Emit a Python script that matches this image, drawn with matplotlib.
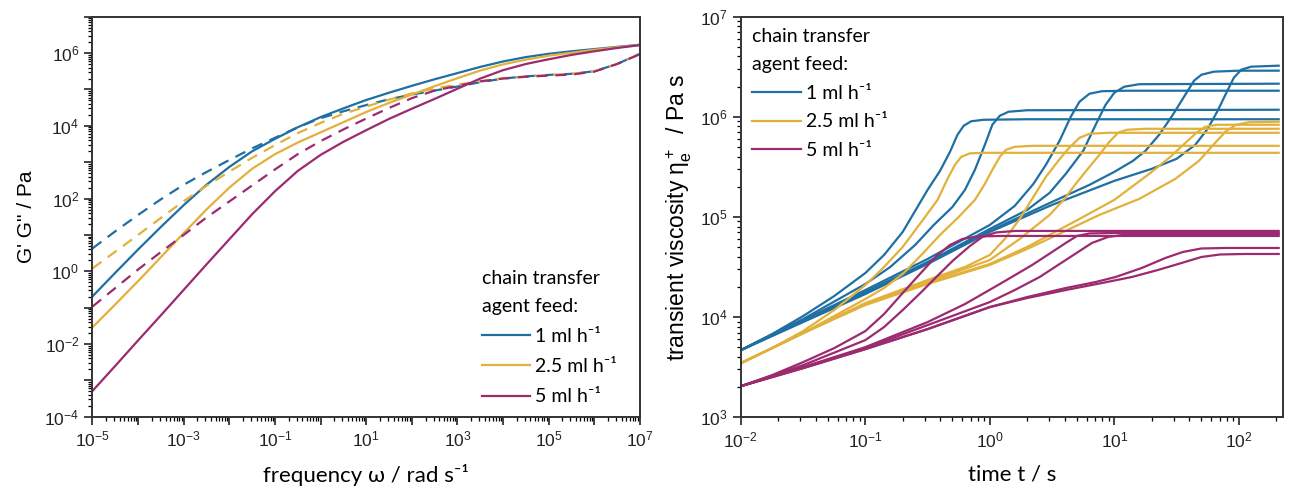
import numpy as np
import matplotlib.pyplot as plt
from matplotlib.ticker import LogLocator, FuncFormatter, NullFormatter
from matplotlib.font_manager import FontProperties

plt.rcParams['font.family'] = ['Liberation Sans', 'DejaVu Sans']
plt.rcParams['mathtext.fontset'] = 'custom'
plt.rcParams['mathtext.rm'] = 'Liberation Sans'
plt.rcParams['mathtext.it'] = 'Liberation Sans:italic'
plt.rcParams['mathtext.bf'] = 'Liberation Sans:bold'

# colours for the three chain transfer agent feeds
c_blue = '#1f6fa3'
c_yellow = '#e2b13c'
c_purple = '#9b2a6f'
feed_labels = ['1 ml h\u207b\u00b9', '2.5 ml h\u207b\u00b9', '5 ml h\u207b\u00b9']

# ---- left: frequency sweep (log10 values) ----
log_freq = [-5, -4.5, -4, -3.5, -3, -2.5, -2, -1.5, -1, -0.5, 0, 0.5, 1, 1.5, 2,
            2.5, 3, 3.5, 4, 4.5, 5, 5.5, 6, 6.5, 7]
Gp_1 = [-0.69, -0.04, 0.60, 1.22, 1.82, 2.38, 2.87, 3.30, 3.64, 3.96, 4.24, 4.48, 4.71,
        4.91, 5.10, 5.28, 5.45, 5.62, 5.77, 5.89, 5.98, 6.05, 6.11, 6.17, 6.23]
Gpp_1 = [0.63, 1.10, 1.55, 1.98, 2.38, 2.73, 3.06, 3.38, 3.67, 3.96, 4.21, 4.40, 4.57,
         4.73, 4.86, 4.97, 5.08, 5.20, 5.30, 5.36, 5.40, 5.43, 5.50, 5.70, 5.98]
Gp_25 = [-1.54, -0.91, -0.27, 0.39, 1.05, 1.70, 2.30, 2.82, 3.22, 3.54, 3.82, 4.10, 4.38,
         4.63, 4.86, 5.09, 5.31, 5.52, 5.69, 5.82, 5.93, 6.01, 6.09, 6.16, 6.22]
Gpp_25 = [0.08, 0.54, 1.00, 1.47, 1.93, 2.35, 2.74, 3.12, 3.47, 3.80, 4.08, 4.33, 4.53,
          4.72, 4.89, 5.03, 5.13, 5.23, 5.31, 5.36, 5.40, 5.43, 5.50, 5.70, 5.98]
Gp_5 = [-3.29, -2.60, -1.90, -1.21, -0.51, 0.19, 0.88, 1.57, 2.20, 2.76, 3.20, 3.56, 3.88,
        4.19, 4.47, 4.74, 5.02, 5.30, 5.53, 5.70, 5.83, 5.95, 6.05, 6.14, 6.22]
Gpp_5 = [-0.97, -0.46, 0.05, 0.53, 1.00, 1.48, 1.92, 2.36, 2.80, 3.22, 3.58, 3.90, 4.20,
         4.49, 4.76, 4.97, 5.10, 5.22, 5.30, 5.35, 5.38, 5.41, 5.49, 5.70, 5.97]

# ---- right: transient elongational viscosity (log10 t, log10 eta) ----
blue_logt = [
    [-2, -1.75, -1.5, -1.25, -1, -0.85, -0.7, -0.6, -0.5, -0.4, -0.32, -0.26, -0.21, -0.15, -0.05, 0.3, 2.32],
    [-2, -1.5, -1, -0.8, -0.6, -0.45, -0.3, -0.2, -0.12, -0.04, 0.02, 0.08, 0.15, 0.3, 2.32],
    [-2, -1.5, -1, -0.5, 0, 0.2, 0.35, 0.45, 0.56, 0.65, 0.72, 0.8, 0.9, 1.1, 2.32],
    [-2, -1.5, -1, -0.5, 0, 0.3, 0.48, 0.61, 0.75, 0.85, 0.93, 1.0, 1.08, 1.2, 2.32],
    [-2, -1.5, -1, -0.5, 0, 0.5, 0.8, 1.0, 1.15, 1.25, 1.36, 1.47, 1.57, 1.64, 1.7, 1.8, 2.0, 2.32],
    [-2, -1.5, -1, -0.5, 0, 0.5, 1.0, 1.3, 1.5, 1.65, 1.75, 1.83, 1.9, 1.96, 2.02, 2.1, 2.32],
]
blue_logeta = [
    [3.67, 3.83, 4.01, 4.21, 4.44, 4.62, 4.85, 5.06, 5.27, 5.46, 5.65, 5.82, 5.91, 5.955, 5.97, 5.975, 5.975],
    [3.67, 3.98, 4.33, 4.50, 4.72, 4.92, 5.10, 5.27, 5.47, 5.72, 5.92, 6.01, 6.05, 6.065, 6.07],
    [3.67, 3.97, 4.27, 4.58, 4.92, 5.11, 5.33, 5.52, 5.76, 6.00, 6.15, 6.23, 6.255, 6.26, 6.26],
    [3.67, 3.96, 4.25, 4.55, 4.88, 5.07, 5.24, 5.43, 5.66, 5.92, 6.12, 6.24, 6.30, 6.325, 6.33],
    [3.67, 3.96, 4.24, 4.54, 4.86, 5.15, 5.32, 5.45, 5.56, 5.66, 5.82, 6.02, 6.22, 6.36, 6.42, 6.45, 6.46, 6.46],
    [3.67, 3.95, 4.23, 4.53, 4.85, 5.12, 5.36, 5.48, 5.58, 5.72, 5.88, 6.06, 6.24, 6.39, 6.47, 6.50, 6.51],
]
yellow_logt = [
    [-2, -1.75, -1.5, -1.25, -1, -0.85, -0.7, -0.55, -0.42, -0.34, -0.28, -0.23, -0.16, -0.05, 2.32],
    [-2, -1.5, -1, -0.85, -0.7, -0.55, -0.4, -0.25, -0.12, -0.04, 0.02, 0.08, 0.13, 0.2, 0.35, 2.32],
    [-2, -1.5, -1, -0.5, -0.2, 0, 0.12, 0.24, 0.35, 0.45, 0.55, 0.63, 0.72, 0.8, 0.95, 2.32],
    [-2, -1.5, -1, -0.5, 0, 0.24, 0.48, 0.6, 0.69, 0.8, 0.88, 0.96, 1.03, 1.1, 1.25, 2.32],
    [-2, -1.5, -1, -0.5, 0, 0.3, 0.72, 1.0, 1.28, 1.45, 1.58, 1.66, 1.73, 1.82, 2.32],
    [-2, -1.5, -1, -0.5, 0, 0.3, 0.88, 1.2, 1.49, 1.68, 1.81, 1.9, 1.98, 2.08, 2.32],
]
yellow_logeta = [
    [3.54, 3.69, 3.86, 4.07, 4.32, 4.50, 4.70, 4.95, 5.17, 5.38, 5.52, 5.60, 5.635, 5.64, 5.64],
    [3.54, 3.84, 4.18, 4.29, 4.43, 4.62, 4.82, 5.00, 5.17, 5.33, 5.47, 5.60, 5.67, 5.70, 5.71, 5.71],
    [3.54, 3.84, 4.14, 4.37, 4.50, 4.62, 4.78, 4.98, 5.20, 5.40, 5.56, 5.68, 5.79, 5.83, 5.84, 5.84],
    [3.54, 3.84, 4.13, 4.35, 4.57, 4.78, 5.02, 5.18, 5.33, 5.50, 5.62, 5.75, 5.84, 5.87, 5.88, 5.88],
    [3.54, 3.84, 4.13, 4.34, 4.53, 4.70, 4.98, 5.17, 5.43, 5.60, 5.75, 5.84, 5.90, 5.92, 5.92],
    [3.54, 3.84, 4.12, 4.33, 4.52, 4.68, 5.02, 5.18, 5.38, 5.56, 5.74, 5.86, 5.92, 5.945, 5.95],
]
purple_logt = [
    [-2, -1.75, -1.5, -1.25, -1, -0.85, -0.7, -0.54, -0.42, -0.32, -0.22, -0.1, 0.1, 2.32],
    [-2, -1.5, -1, -0.85, -0.7, -0.55, -0.43, -0.3, -0.16, -0.06, 0.05, 0.2, 2.32],
    [-2, -1.5, -1, -0.5, -0.2, 0.08, 0.34, 0.5, 0.61, 0.7, 0.8, 1.0, 2.32],
    [-2, -1.5, -1, -0.5, 0, 0.2, 0.4, 0.61, 0.82, 0.95, 1.1, 2.32],
    [-2, -1.5, -1, -0.5, 0, 0.3, 0.61, 0.85, 1.01, 1.22, 1.41, 1.55, 1.7, 1.9, 2.32],
    [-2, -1.5, -1, -0.5, 0, 0.3, 0.61, 0.9, 1.14, 1.35, 1.54, 1.7, 1.85, 2.05, 2.32],
]
purple_logeta = [
    [3.31, 3.42, 3.55, 3.69, 3.86, 4.03, 4.24, 4.46, 4.62, 4.72, 4.78, 4.805, 4.81, 4.81],
    [3.31, 3.52, 3.77, 3.90, 4.07, 4.25, 4.40, 4.56, 4.71, 4.80, 4.845, 4.86, 4.86],
    [3.31, 3.50, 3.70, 3.95, 4.13, 4.33, 4.52, 4.65, 4.74, 4.81, 4.835, 4.84, 4.84],
    [3.31, 3.50, 3.69, 3.92, 4.15, 4.27, 4.40, 4.57, 4.74, 4.80, 4.825, 4.83],
    [3.31, 3.49, 3.68, 3.88, 4.10, 4.20, 4.29, 4.35, 4.40, 4.49, 4.59, 4.65, 4.685, 4.69, 4.69],
    [3.31, 3.49, 3.68, 3.88, 4.10, 4.19, 4.27, 4.34, 4.40, 4.47, 4.54, 4.60, 4.625, 4.63, 4.63],
]

fig = plt.figure(figsize=(12.9, 4.88), dpi=100)
ax1 = fig.add_axes([0.0717, 0.146, 0.4243, 0.8197])
ax2 = fig.add_axes([0.5743, 0.145, 0.4203, 0.821])

leg_font = FontProperties(family=['Lato', 'DejaVu Sans'], size=14)
lab_font = FontProperties(family=['Lato', 'DejaVu Sans'], size=16)

f = 10 ** np.array(log_freq)
for gp, gpp, col, lab in [(Gp_1, Gpp_1, c_blue, feed_labels[0]),
                          (Gp_25, Gpp_25, c_yellow, feed_labels[1]),
                          (Gp_5, Gpp_5, c_purple, feed_labels[2])]:
    ax1.plot(f, 10 ** np.array(gp), color=col, lw=1.6, label=lab)
    ax1.plot(f, 10 ** np.array(gpp), color=col, lw=1.6, ls=(0, (5, 3.5)))

for ts, es, col, lab in [(blue_logt, blue_logeta, c_blue, feed_labels[0]),
                         (yellow_logt, yellow_logeta, c_yellow, feed_labels[1]),
                         (purple_logt, purple_logeta, c_purple, feed_labels[2])]:
    for i, (t, e) in enumerate(zip(ts, es)):
        ax2.plot(10 ** np.array(t), 10 ** np.array(e), color=col, lw=1.6,
                 label=lab if i == 0 else None)


def exp_fmt(keep):
    def fmt(v, pos):
        k = int(round(np.log10(v)))
        return r'$10^{%d}$' % k if keep(k) else ''
    return fmt


ax1.set_xscale('log')
ax1.set_yscale('log')
ax1.set_xlim(1e-5, 1e7)
ax1.set_ylim(1e-4, 1e7)
ax1.xaxis.set_major_locator(LogLocator(base=10, numticks=30))
ax1.yaxis.set_major_locator(LogLocator(base=10, numticks=30))
ax1.xaxis.set_major_formatter(FuncFormatter(exp_fmt(lambda k: k % 2 != 0)))
ax1.yaxis.set_major_formatter(FuncFormatter(exp_fmt(lambda k: k % 2 == 0)))

ax2.set_xscale('log')
ax2.set_yscale('log')
ax2.set_xlim(1e-2, 10 ** 2.355)
ax2.set_ylim(1e3, 1e7)
ax2.xaxis.set_major_locator(LogLocator(base=10, numticks=30))
ax2.yaxis.set_major_locator(LogLocator(base=10, numticks=30))
ax2.xaxis.set_major_formatter(FuncFormatter(exp_fmt(lambda k: True)))
ax2.yaxis.set_major_formatter(FuncFormatter(exp_fmt(lambda k: True)))

for ax in (ax1, ax2):
    for a in (ax.xaxis, ax.yaxis):
        a.set_minor_locator(LogLocator(base=10, subs=np.arange(2, 10), numticks=100))
        a.set_minor_formatter(NullFormatter())
    ax.tick_params(which='major', direction='out', length=6, width=1.2,
                   labelsize=12.5, colors='#222222', top=False, right=False)
    ax.tick_params(which='minor', direction='out', length=3, width=0.9,
                   top=False, right=False)
    for s in ax.spines.values():
        s.set_linewidth(1.4)
        s.set_color('#333333')

ax1.set_ylabel("G' G'' / Pa", fontsize=15, labelpad=6)
ax1.set_xlabel('frequency \u03c9 / rad s\u207b\u00b9', fontproperties=lab_font, labelpad=10)
ax2.set_ylabel(r'transient viscosity $\mathrm{\eta_e^+}$  / Pa s', fontsize=16.5, labelpad=4)
ax2.set_xlabel('time t / s', fontproperties=lab_font, labelpad=10)

for ax, anchor, spacing in [(ax1, (0.711, 0.368), 0.68), (ax2, (0.021, 0.972), 0.6)]:
    leg = ax.legend(title='chain transfer\nagent feed:', loc='upper left',
                    bbox_to_anchor=anchor, frameon=False, prop=leg_font,
                    title_fontproperties=leg_font, alignment='left',
                    handlelength=2.5, handletextpad=0.25, labelspacing=spacing,
                    borderpad=0, borderaxespad=0)
    leg.get_title().set_linespacing(1.8)

fig.savefig('out.png', dpi=100)
